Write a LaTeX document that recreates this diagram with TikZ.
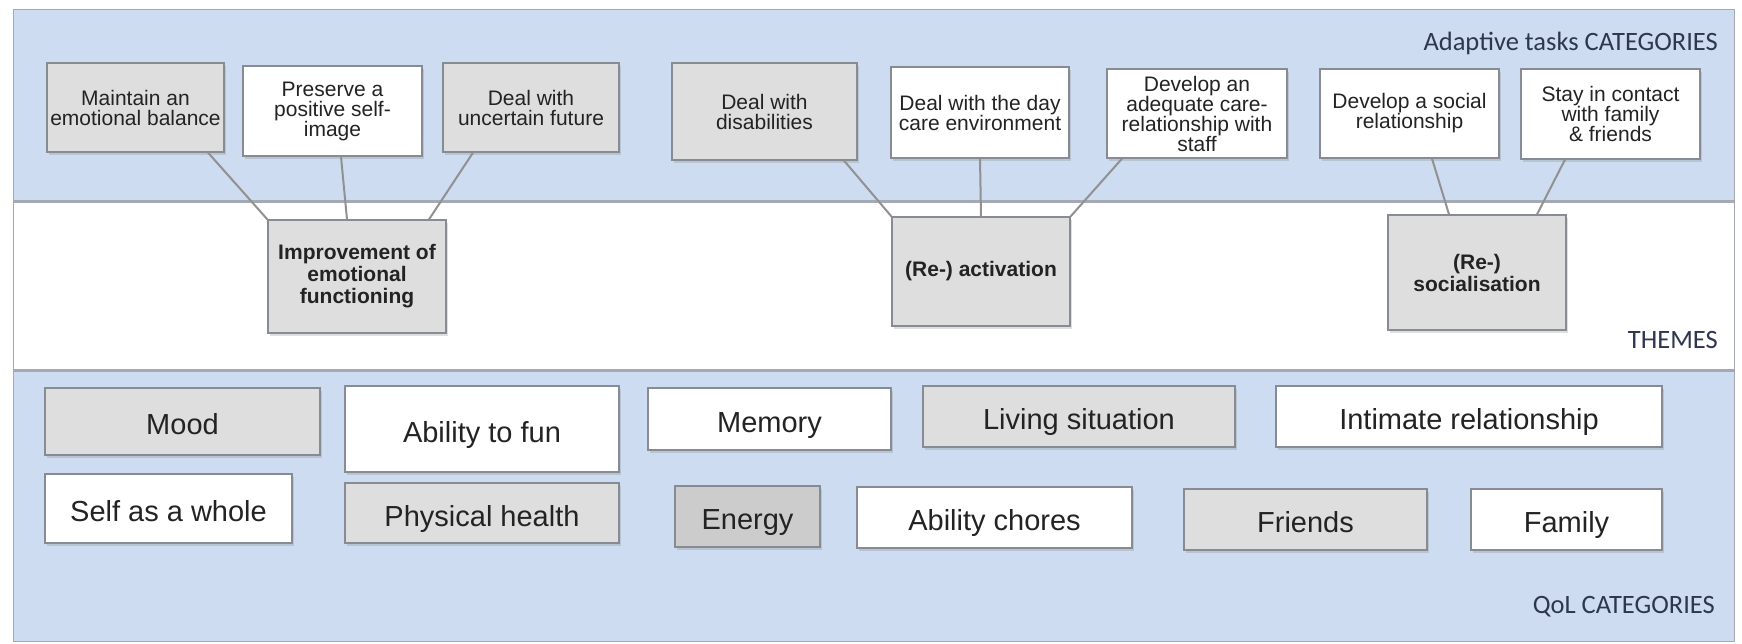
\documentclass[tikz,border=0pt]{standalone}
\usepackage{fontspec}
\setmainfont{Liberation Sans}
\newfontfamily\bandfont{Carlito}
\usepackage{tikz}
\usetikzlibrary{calc, shadows}
\definecolor{bandblue}{RGB}{205,220,240}
\definecolor{bandedge}{RGB}{165,170,178}
\definecolor{boxgray}{RGB}{222,222,222}
\definecolor{boxdark}{RGB}{204,204,204}
\definecolor{boxedge}{RGB}{135,140,148}
\definecolor{linkgray}{RGB}{145,145,145}
\definecolor{labelblue}{RGB}{45,55,78}
\definecolor{textdark}{RGB}{35,35,35}
\tikzset{
  card/.style={draw=boxedge, line width=1.2pt, inner sep=0pt, align=center, text=textdark,
    drop shadow={shadow xshift=1.5pt, shadow yshift=-3pt, opacity=0.25}},
  gray card/.style={card, fill=boxgray},
  white card/.style={card, fill=white},
  task/.style={font=\fontsize{21}{20}\selectfont},
  theme/.style={gray card, font=\bfseries\fontsize{21}{22}\selectfont},
  qol/.style={font=\fontsize{29}{30}\selectfont, text height=26pt, text depth=0pt},
  link/.style={draw=linkgray, line width=2pt},
  bandlabel/.style={anchor=base east, inner sep=0pt, text=labelblue,
    font=\bandfont\fontsize{26.5}{28}\selectfont}
}

\begin{document}
\begin{tikzpicture}[x=1pt, y=-1pt]
  \useasboundingbox (0,0) rectangle (1742,643);
  % bands
  \draw[bandedge, line width=1pt, fill=bandblue] (13,9) rectangle (1734,201);
  \draw[bandedge, line width=1pt, fill=white] (13,201) rectangle (1734,370);
  \draw[bandedge, line width=1pt, fill=bandblue] (13,370) rectangle (1734,641);
  \draw[bandedge, line width=3pt] (13,201) -- (1734,201);
  \draw[bandedge, line width=3pt] (13,370) -- (1734,370);
  % band labels
  \node[bandlabel] (adaptive) at (1718,50) {Adaptive tasks CATEGORIES};
  \node[bandlabel] (themes) at (1718,348) {THEMES};
  \node[bandlabel] (qolcat) at (1715,613) {QoL CATEGORIES};
  % adaptive tasks
  \node[gray card, task, minimum width=177pt, minimum height=89pt] (balance) at (135.5,107.5) {Maintain an\\emotional balance};
  \node[white card, task, minimum width=179pt, minimum height=90pt] (selfimage) at (332.5,111) {Preserve a\\positive self-\\image};
  \node[gray card, task, minimum width=176pt, minimum height=89pt] (future) at (531,107.5) {Deal with\\uncertain future};
  \node[gray card, task, minimum width=185pt, minimum height=97pt] (disab) at (764.5,111.5) {Deal with\\disabilities};
  \node[white card, task, minimum width=178pt, minimum height=91pt] (daycare) at (980,112.5) {Deal with the day\\care environment};
  \node[white card, task, minimum width=180pt, minimum height=89pt] (staff) at (1197,113.5) {Develop an\\adequate care-\\relationship with\\staff};
  \node[white card, task, minimum width=179pt, minimum height=89pt] (socrel) at (1409.5,113.5) {Develop a social\\relationship};
  \node[white card, task, minimum width=179pt, minimum height=90pt] (contact) at (1610.5,114) {Stay in contact\\with family\\\& friends};
  % themes
  \node[theme, minimum width=178pt, minimum height=113pt] (emotion) at (357,276.5) {Improvement of\\emotional\\functioning};
  \node[theme, minimum width=178pt, minimum height=109pt] (activation) at (981,271.5) {(Re-) activation};
  \node[theme, minimum width=178pt, minimum height=115pt] (socialisation) at (1477,272.5) {(Re-)\\socialisation};
  % task -> theme links
  \draw[link] ($(balance.south)+(72.5,0)$) -- (emotion.north west);
  \draw[link] ($(selfimage.south)+(8.5,0)$) -- ($(emotion.north)+(-10,0)$);
  \draw[link] ($(future.south)+(-58,0)$) -- ($(emotion.north)+(72,0)$);
  \draw[link] ($(disab.south)+(79.5,0)$) -- (activation.north west);
  \draw[link] (daycare.south) -- (activation.north);
  \draw[link] ($(staff.south)+(-75,0)$) -- (activation.north east);
  \draw[link] ($(socrel.south)+(22.5,0)$) -- ($(socialisation.north)+(-28,0)$);
  \draw[link] ($(contact.south)+(-45.5,0)$) -- ($(socialisation.north)+(60,0)$);
  % QoL categories
  \node[gray card, qol, minimum width=275pt, minimum height=67pt] (mood) at (182.5,421.5) {Mood};
  \node[white card, qol, minimum width=274pt, minimum height=86pt] (fun) at (482,429) {Ability to fun};
  \node[white card, qol, minimum width=243pt, minimum height=62pt] (memory) at (769.5,419) {Memory};
  \node[gray card, qol, minimum width=312pt, minimum height=61pt] (living) at (1079,416.5) {Living situation};
  \node[white card, qol, minimum width=386pt, minimum height=61pt] (intimate) at (1469,416.5) {Intimate relationship};
  \node[white card, qol, minimum width=247pt, minimum height=69pt] (selfwhole) at (168.5,508.5) {Self as a whole};
  \node[gray card, qol, minimum width=274pt, minimum height=60pt] (physical) at (482,513) {Physical health};
  \node[card, fill=boxdark, qol, minimum width=145pt, minimum height=61pt] (energy) at (747.5,516.5) {Energy};
  \node[white card, qol, minimum width=275pt, minimum height=61pt] (chores) at (994.5,517.5) {Ability chores};
  \node[gray card, qol, minimum width=243pt, minimum height=61pt] (friends) at (1305.5,519.5) {Friends};
  \node[white card, qol, minimum width=191pt, minimum height=61pt] (family) at (1566.5,519.5) {Family};
\end{tikzpicture}
\end{document}
